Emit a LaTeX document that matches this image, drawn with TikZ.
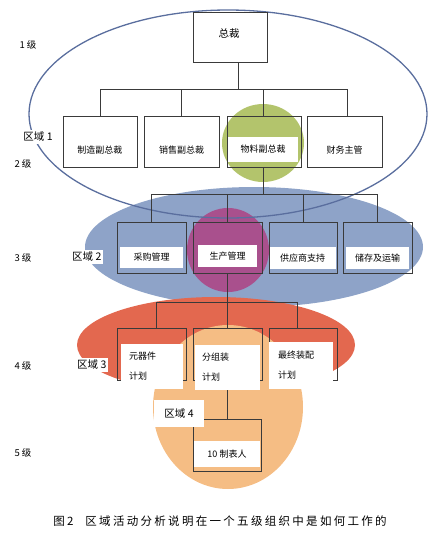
\documentclass[tikz,border=0pt]{standalone}
\usepackage{fontspec}
\setmainfont{Noto Sans CJK SC}
\newfontfamily\capfont[LetterSpace=20]{Noto Sans CJK SC}
\definecolor{ringblue}{HTML}{5A6E9E}
\definecolor{fillgreen}{HTML}{B3C46C}
\definecolor{fillblue}{HTML}{8EA3C8}
\definecolor{fillmag}{HTML}{A9508D}
\definecolor{fillred}{HTML}{E3684F}
\definecolor{fillorange}{HTML}{F5BD84}
\definecolor{boxline}{HTML}{3A3A3A}
\begin{document}
\begin{tikzpicture}[x=1pt,y=-1pt,
  box/.style={draw=boxline, line width=0.8pt, inner sep=0, minimum height=51pt},
  txt/.style={fill=white, inner sep=0, font=\fontsize{9}{11}\selectfont},
  wtxt/.style={fill=white, inner sep=0, font=\fontsize{9}{20}\selectfont, align=left, text width=52pt},
  lvl/.style={font=\fontsize{9.5}{11}\selectfont, inner sep=0},
  zone/.style={font=\fontsize{10.5}{12}\selectfont, fill=white, inner sep=2pt},
  conn/.style={draw=boxline, line width=0.8pt}]
\useasboundingbox (0,0) rectangle (440,542);
% colored areas
\fill[fillblue] (254,247) ellipse [x radius=169, y radius=60];
\fill[fillmag] (228,250) ellipse [x radius=41, y radius=42];
\fill[fillgreen] (263,143) ellipse [x radius=41, y radius=39];
\fill[fillred] (216,345) ellipse [x radius=139, y radius=48];
\fill[fillorange] (228,407) ellipse [x radius=75, y radius=82];
\draw[ringblue, line width=1.3pt] (228,114) ellipse [x radius=199, y radius=104];
% boxes
\node[box, minimum width=74pt, minimum height=50pt] (top) at (230,37) {};
\node[box, minimum width=74pt] (m1) at (100,141.5) {};
\node[box, minimum width=75pt] (m2) at (181.5,141.5) {};
\node[box, minimum width=74pt] (m3) at (264,141.5) {};
\node[box, minimum width=75pt] (m4) at (344.5,141.5) {};
\node[box, minimum width=69pt] (p1) at (151.5,247.5) {};
\node[box, minimum width=69pt] (p2) at (227.5,247.5) {};
\node[box, minimum width=68pt] (p3) at (303,247.5) {};
\node[box, minimum width=69pt] (p4) at (377.5,247.5) {};
\node[box, minimum width=69pt, minimum height=52pt] (s1) at (151.5,354) {};
\node[box, minimum width=69pt, minimum height=52pt] (s2) at (227.5,354) {};
\node[box, minimum width=68pt, minimum height=52pt] (s3) at (303,354) {};
\node[box, minimum width=68pt, minimum height=52pt] (w1) at (227,445) {};
% connectors
\coordinate (bus1) at (0,89);
\coordinate (bus2) at (0,194);
\coordinate (bus3) at (0,302);
\draw[conn] ([xshift=8pt]top.south) -- ([xshift=8pt]top.south |- bus1);
\draw[conn] (m1.north |- bus1) -- ([xshift=2.5pt]m4.north |- bus1);
\draw[conn] (m1.north |- bus1) -- (m1.north);
\draw[conn] (m2.north |- bus1) -- (m2.north);
\draw[conn] ([xshift=-1pt]m3.north |- bus1) -- ([xshift=-1pt]m3.north);
\draw[conn] ([xshift=2.5pt]m4.north |- bus1) -- ([xshift=2.5pt]m4.north);
\draw[conn] ([xshift=-1pt]m3.south) -- ([xshift=-1pt]m3.south |- bus2);
\draw[conn] (p1.north |- bus2) -- (p4.north |- bus2);
\draw[conn] (p1.north |- bus2) -- (p1.north);
\draw[conn] (p2.north |- bus2) -- (p2.north);
\draw[conn] (p3.north |- bus2) -- (p3.north);
\draw[conn] (p4.north |- bus2) -- (p4.north);
\draw[conn] (p2.south) -- (p2.south |- bus3);
\draw[conn] ([xshift=5pt]s1.north |- bus3) -- ([xshift=-6pt]s3.north |- bus3);
\draw[conn] ([xshift=5pt]s1.north |- bus3) -- ([xshift=5pt]s1.north);
\draw[conn] (s2.north |- bus3) -- (s2.north);
\draw[conn] ([xshift=-6pt]s3.north |- bus3) -- ([xshift=-6pt]s3.north);
\draw[conn] (s2.south) -- (s2.south |- w1.north);
% box texts
\node[txt, font=\fontsize{10.5}{12}\selectfont] (ttop) at (229,33) {总裁};
\node[txt, minimum width=70pt, minimum height=25pt] (tm1) at (100,150) {制造副总裁};
\node[txt, minimum width=70pt, minimum height=25pt] (tm2) at (181.5,150) {销售副总裁};
\node[txt, minimum width=70pt, minimum height=25pt] (tm3) at (263,149.5) {物料副总裁};
\node[txt, minimum width=70pt, minimum height=25pt] (tm4) at (344.5,150) {财务主管};
\node[txt, minimum width=63pt, minimum height=21pt] (tp1) at (151.5,257.5) {采购管理};
\node[txt, minimum width=59pt, minimum height=22pt] (tp2) at (227.5,256) {生产管理};
\node[txt, minimum width=66pt, minimum height=22pt] (tp3) at (302.5,258) {供应商支持};
\node[txt, minimum width=63pt, minimum height=22pt] (tp4) at (377.5,258) {储存及运输};
\node[wtxt, minimum width=62pt, minimum height=45pt, inner xsep=8pt, text width=46pt] (ts1) at (152,366) {元器件\\计划};
\node[wtxt, minimum width=65pt, minimum height=45pt, inner xsep=7pt, text width=51pt] (ts2) at (227.5,367.5) {分组装\\计划};
\node[wtxt, minimum width=64pt, minimum height=47pt, inner xsep=9pt, text width=46pt] (ts3) at (301,365) {最终装配\\计划};
\node[txt, minimum width=66pt, minimum height=26pt] (tw1) at (227,454) {10 制表人};
% level labels
\node[lvl] (l1) at (28,45) {1 级};
\node[lvl] (l2) at (23,164) {2 级};
\node[lvl] (l3) at (23,258) {3 级};
\node[lvl] (l4) at (23,366) {4 级};
\node[lvl] (l5) at (23,453) {5 级};
% zone labels
\node[zone] (z1) at (38,137) {区域 1};
\node[zone, anchor=west, inner xsep=2pt] (z2) at (70,257) {区域 2\hspace{8pt}};
\node[zone, anchor=west] (z3) at (75,365) {区域 3\hspace{4pt}};
\node[zone, minimum width=50pt, minimum height=27pt] (z4) at (179,413.5) {区域 4};
% caption
\node[inner sep=0, font=\capfont\fontsize{11.5}{13}\selectfont] (cap) at (220,521) {图2\hspace{12pt}区域活动分析说明在一个五级组织中是如何工作的};
\end{tikzpicture}
\end{document}
